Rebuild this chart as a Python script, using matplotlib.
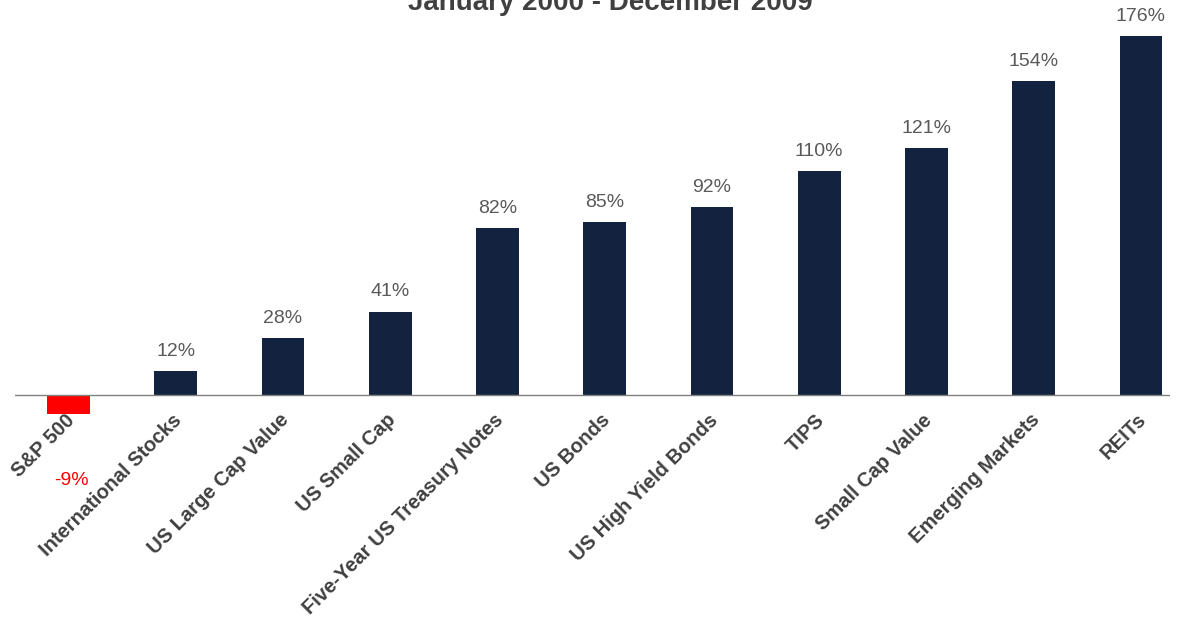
import numpy as np
import matplotlib.pyplot as plt
from matplotlib.transforms import ScaledTranslation

plt.rcParams['font.family'] = ['Liberation Sans', 'DejaVu Sans']

# cumulative returns by asset class
categories = ['S&P 500', 'International Stocks', 'US Large Cap Value', 'US Small Cap',
              'Five-Year US Treasury Notes', 'US Bonds', 'US High Yield Bonds', 'TIPS',
              'Small Cap Value', 'Emerging Markets', 'REITs']
returns = [-9, 12, 28, 41, 82, 85, 92, 110, 121, 154, 176]

navy = '#13233f'
red = '#ff0000'
grey = '#595959'

fig = plt.figure(figsize=(11.87, 6.26), dpi=100)
ax = fig.add_axes([0.0126, 0.3035, 0.973, 0.6847])

x = np.arange(len(categories))
colors = [red if v < 0 else navy for v in returns]
ax.bar(x, returns, width=0.4, color=colors, zorder=2)
ax.axhline(0, color='#808080', lw=1, zorder=3)

for xi, v in zip(x, returns):
    if v >= 0:
        ax.annotate(f'{v}%', (xi, v), xytext=(0, 8), textcoords='offset points',
                    ha='center', va='bottom', fontsize=14, color=grey)
    else:
        ax.annotate(f'{v}%', (xi, v), xytext=(2, -48), textcoords='offset points',
                    ha='center', va='center', fontsize=14, color=red)

ax.set_xlim(-0.5, 10.27)
ax.set_ylim(-20, 190)
ax.set_xticks(x)
ax.set_xticklabels(categories, rotation=45, ha='right', rotation_mode='anchor',
                   fontsize=14.5, fontweight='bold', color='#404040')
# labels sit just under the zero line, above the axes' lower edge
ax.tick_params(axis='x', length=0, pad=-18.5)
ax.set_yticks([])
for s in ax.spines.values():
    s.set_visible(False)

shift = ScaledTranslation(-4 / 100, 0, fig.dpi_scale_trans)
for lbl in ax.get_xticklabels():
    lbl.set_transform(lbl.get_transform() + shift)

fig.text(0.514, 1 - 10 / 626, 'January 2000 - December 2009', ha='center', va='baseline',
         fontsize=20, fontweight='bold', color='#404040')

fig.savefig('out.png', dpi=100)
